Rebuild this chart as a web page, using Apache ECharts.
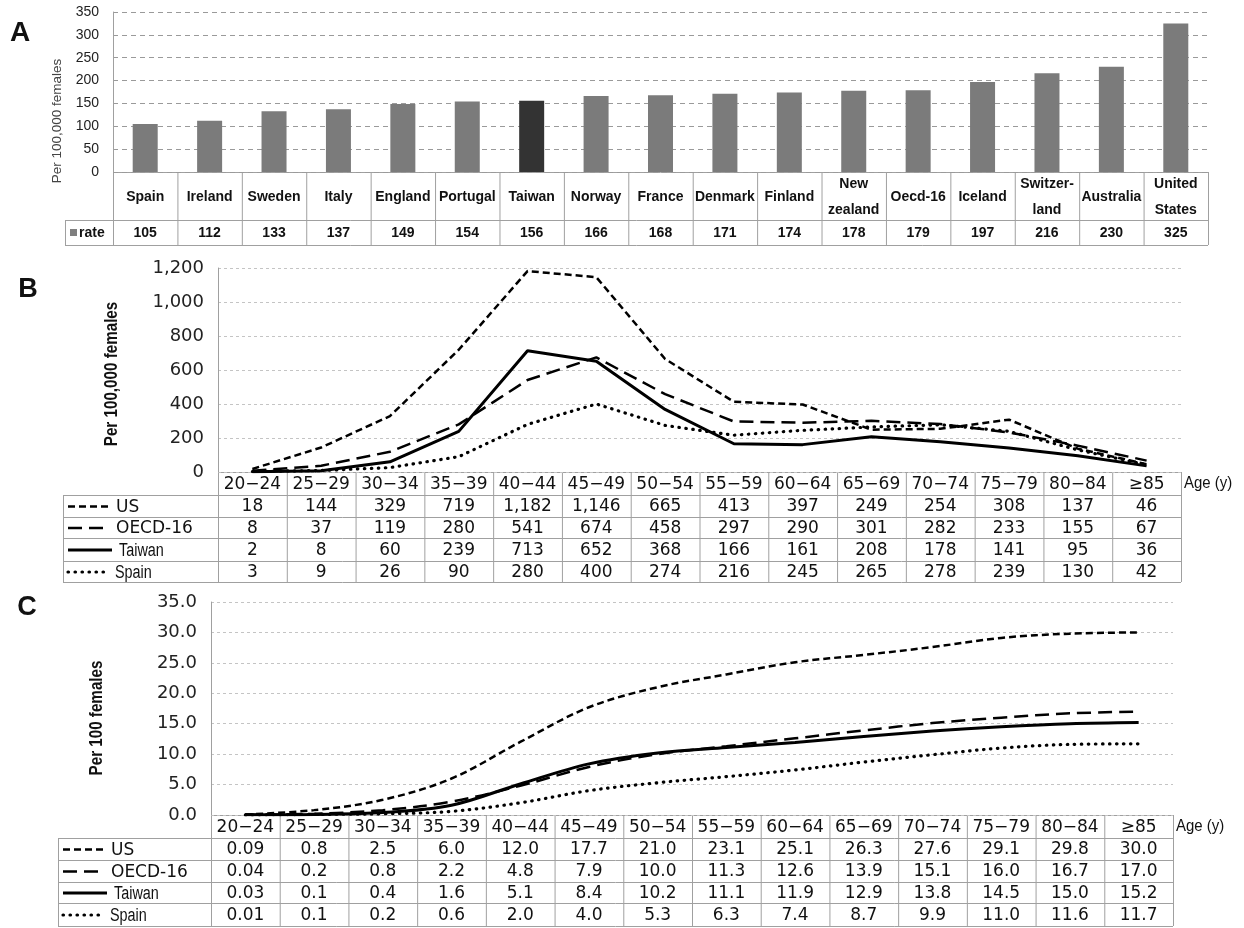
<!DOCTYPE html>
<html>
<head>
<meta charset="utf-8">
<script src="https://cdn.jsdelivr.net/npm/echarts@6/dist/echarts.min.js"></script>
<style>
  html, body { margin: 0; background: #fff; }
  #main { width: 1244px; height: 928px; }
</style>
</head>
<body>
<div id="main"></div>
<script>
// A: incidence per 100,000 females by country
var countries = ['Spain', 'Ireland', 'Sweden', 'Italy', 'England', 'Portugal', 'Taiwan', 'Norway', 'France',
  'Denmark', 'Finland', 'New\nzealand', 'Oecd-16', 'Iceland', 'Switzer-\nland', 'Australia', 'United\nStates']
var rates = [105, 112, 133, 137, 149, 154, 156, 166, 168, 171, 174, 178, 179, 197, 216, 230, 325]

// B / C: age groups
var ageGroups = ['20\u221224', '25\u221229', '30\u221234', '35\u221239', '40\u221244', '45\u221249', '50\u221254',
  '55\u221259', '60\u221264', '65\u221269', '70\u221274', '75\u221279', '80\u221284', '\u226585']
var seriesNames = ['US', 'OECD-16', 'Taiwan', 'Spain']

// B: age-specific incidence per 100,000
var incUS = [18, 144, 329, 719, 1182, 1146, 665, 413, 397, 249, 254, 308, 137, 46]
var incOECD = [8, 37, 119, 280, 541, 674, 458, 297, 290, 301, 282, 233, 155, 67]
var incTaiwan = [2, 8, 60, 239, 713, 652, 368, 166, 161, 208, 178, 141, 95, 36]
var incSpain = [3, 9, 26, 90, 280, 400, 274, 216, 245, 265, 278, 239, 130, 42]

// C: cumulative risk per 100
var cumUS = [0.09, 0.8, 2.5, 6.0, 12.0, 17.7, 21.0, 23.1, 25.1, 26.3, 27.6, 29.1, 29.8, 30.0]
var cumOECD = [0.04, 0.2, 0.8, 2.2, 4.8, 7.9, 10.0, 11.3, 12.6, 13.9, 15.1, 16.0, 16.7, 17.0]
var cumTaiwan = [0.03, 0.1, 0.4, 1.6, 5.1, 8.4, 10.2, 11.1, 11.9, 12.9, 13.8, 14.5, 15.0, 15.2]
var cumSpain = [0.01, 0.1, 0.2, 0.6, 2.0, 4.0, 5.3, 6.3, 7.4, 8.7, 9.9, 11.0, 11.6, 11.7]

// layout of the three panels (pixels)
var PA = { left: 113, right: 1208, top: 12, bottom: 172, rows: [172, 220, 245], labelLeft: 65 }
var PB = { left: 218, right: 1181, top: 268, bottom: 472, rows: [472, 495, 517, 538, 561, 582], labelLeft: 63 }
var PC = { left: 211, right: 1173, top: 602, bottom: 815, rows: [815, 838, 860, 882, 903, 926], labelLeft: 58 }

var BORDER = '#a0a0a0'
var SANS = '"Liberation Sans", Arial, sans-serif'
var WIDE = '"DejaVu Sans", sans-serif'

// line look per series
var styles = [
  { type: [7, 4], width: 2.5, cap: 'butt' },
  { type: [14, 7], width: 2.5, cap: 'butt' },
  { type: 'solid', width: 3, cap: 'butt' },
  { type: [0.5, 6.5], width: 3.2, cap: 'round' }
]

function hline(x1, x2, y) {
  return { type: 'line', silent: true, shape: { x1: x1, y1: y + 0.5, x2: x2, y2: y + 0.5 }, style: { stroke: BORDER, lineWidth: 1 } }
}
function vline(x, y1, y2) {
  return { type: 'line', silent: true, shape: { x1: x + 0.5, y1: y1, x2: x + 0.5, y2: y2 }, style: { stroke: BORDER, lineWidth: 1 } }
}
function txt(s, x, y, font, align, sx) {
  return { type: 'text', silent: true, x: x, y: y, scaleX: sx || 1,
    style: { text: s, font: font, fill: '#111', textAlign: align || 'center', textVerticalAlign: 'middle', lineHeight: 26 } }
}
// rotated, condensed title
function vtitle(s, x, y, font, color, squeeze) {
  return { type: 'text', silent: true, x: x, y: y, rotation: Math.PI / 2, scaleX: squeeze,
    style: { text: s, font: font, fill: color, textAlign: 'center', textVerticalAlign: 'middle' } }
}

var g = []

// ---- table A
;(function() {
  var n = countries.length
  var w = (PA.right - PA.left) / n
  var r = PA.rows
  g.push(hline(PA.left, PA.right, r[0]))
  g.push(hline(PA.labelLeft, PA.right, r[1]))
  g.push(hline(PA.labelLeft, PA.right, r[2]))
  g.push(vline(PA.labelLeft, r[1], r[2]))
  for (var i = 0; i <= n; i++) g.push(vline(PA.left + i * w, r[0], r[2]))
  for (var j = 0; j < n; j++) {
    var cx = PA.left + (j + 0.5) * w
    g.push(txt(countries[j], cx, (r[0] + r[1]) / 2 + 1, 'bold 14px ' + SANS))
    g.push(txt(String(rates[j]), cx, (r[1] + r[2]) / 2 + 1, 'bold 14px ' + SANS))
  }
  g.push({ type: 'rect', silent: true, shape: { x: 70, y: 229, width: 7, height: 7 }, style: { fill: '#7f7f7f' } })
  g.push(txt('rate', 79, (r[1] + r[2]) / 2 + 1, 'bold 14px ' + SANS, 'left'))
})()

// ---- tables B and C
function lineTable(p, rowsData, fmt) {
  var n = ageGroups.length
  var w = (p.right - p.left) / n
  var r = p.rows
  g.push(hline(p.left, p.right, r[0]))
  for (var k = 1; k < r.length; k++) g.push(hline(p.labelLeft, p.right, r[k]))
  g.push(vline(p.labelLeft, r[1], r[r.length - 1]))
  for (var i = 0; i <= n; i++) g.push(vline(p.left + i * w, r[0], r[r.length - 1]))
  for (var j = 0; j < n; j++) {
    var cx = p.left + (j + 0.5) * w
    g.push(txt(ageGroups[j], cx, (r[0] + r[1]) / 2 + 1, '17px ' + WIDE))
    for (var s = 0; s < rowsData.length; s++) {
      g.push(txt(fmt(rowsData[s][j]), cx, (r[s + 1] + r[s + 2]) / 2 + 1, '17px ' + WIDE))
    }
  }
  // legend column: line sample + name
  for (var t = 0; t < seriesNames.length; t++) {
    var cy = (r[t + 1] + r[t + 2]) / 2 + 0.5
    var st = styles[t]
    var x1 = p.labelLeft + 5
    var x2 = x1 + (t === 2 ? 44 : 40)
    g.push({ type: 'line', silent: true, shape: { x1: x1, y1: cy, x2: x2, y2: cy },
      style: { stroke: '#000', lineWidth: st.width, lineDash: st.type === 'solid' ? null : st.type, lineCap: st.cap } })
    if (t >= 2) g.push(txt(seriesNames[t], x2 + 7, cy + 1, '18px ' + SANS, 'left', 0.8))
    else g.push(txt(seriesNames[t], x2 + 8, cy + 1, '17px ' + WIDE, 'left'))
  }
  g.push(txt('Age (y)', p.right + 3, (r[0] + r[1]) / 2, '17px ' + SANS, 'left', 0.88))
}
lineTable(PB, [incUS, incOECD, incTaiwan, incSpain], function(v) { return v.toLocaleString('en-US') })
lineTable(PC, [cumUS, cumOECD, cumTaiwan, cumSpain], function(v) { return v < 0.1 ? v.toFixed(2) : v.toFixed(1) })

// panel letters and axis titles
g.push(txt('A', 20, 33, 'bold 28px ' + SANS))
g.push(txt('B', 28, 290, 'bold 27px ' + SANS))
g.push(txt('C', 27, 608, 'bold 27px ' + SANS))
g.push(vtitle('Per 100,000 females', 57, 121, '13.5px ' + SANS, '#444', 1))
g.push(vtitle('Per 100,000 females', 112, 374, 'bold 19px ' + SANS, '#111', 0.8))
g.push(vtitle('Per 100 females', 97, 718, 'bold 19px ' + SANS, '#111', 0.8))

function grid(p) {
  return { left: p.left, width: p.right - p.left, top: p.top, height: p.bottom - p.top, containLabel: false }
}
function xAx(idx, data) {
  return { type: 'category', gridIndex: idx, data: data, boundaryGap: true,
    axisLine: { show: false }, axisTick: { show: false }, axisLabel: { show: false }, splitLine: { show: false } }
}
function yAx(idx, max, interval, fmt, fontSize, font, dash, gridColor) {
  return { type: 'value', gridIndex: idx, min: 0, max: max, interval: interval,
    axisLine: { show: true, lineStyle: { color: BORDER, width: 1 } }, axisTick: { show: false },
    axisLabel: { formatter: fmt, fontSize: fontSize, fontFamily: font, color: '#222', margin: 14 },
    splitLine: { lineStyle: { color: gridColor, type: dash, width: 1 } } }
}

function lineSeries(idx, data, smooth) {
  return data.map(function(d, i) {
    return { type: 'line', name: seriesNames[i], xAxisIndex: idx, yAxisIndex: idx, data: d,
      symbol: 'none', smooth: smooth, z: i === 2 ? 5 : 4,
      lineStyle: { color: '#000', width: styles[i].width, type: styles[i].type, cap: styles[i].cap } }
  })
}

var chart = echarts.init(document.getElementById('main'))
var option = {
  animation: false,
  backgroundColor: '#fff',
  grid: [grid(PA), grid(PB), grid(PC)],
  xAxis: [xAx(0, countries), xAx(1, ageGroups), xAx(2, ageGroups)],
  yAxis: [
    yAx(0, 350, 50, null, 14, SANS, [5, 4], '#9a9a9a'),
    yAx(1, 1200, 200, function(v) { return v.toLocaleString('en-US') }, 18, WIDE, [3, 3], '#c4c4c4'),
    yAx(2, 35, 5, function(v) { return v.toFixed(1) }, 18, WIDE, [3, 3], '#c4c4c4')
  ],
  series: [
    { type: 'bar', xAxisIndex: 0, yAxisIndex: 0, barWidth: 25,
      data: rates.map(function(v, i) {
        return { value: v, itemStyle: { color: countries[i] === 'Taiwan' ? '#333333' : '#7b7b7b' } }
      }) }
  ].concat(lineSeries(1, [incUS, incOECD, incTaiwan, incSpain], false))
   .concat(lineSeries(2, [cumUS, cumOECD, cumTaiwan, cumSpain], 0.35)),
  graphic: g
}
chart.setOption(option)
</script>
</body>
</html>
